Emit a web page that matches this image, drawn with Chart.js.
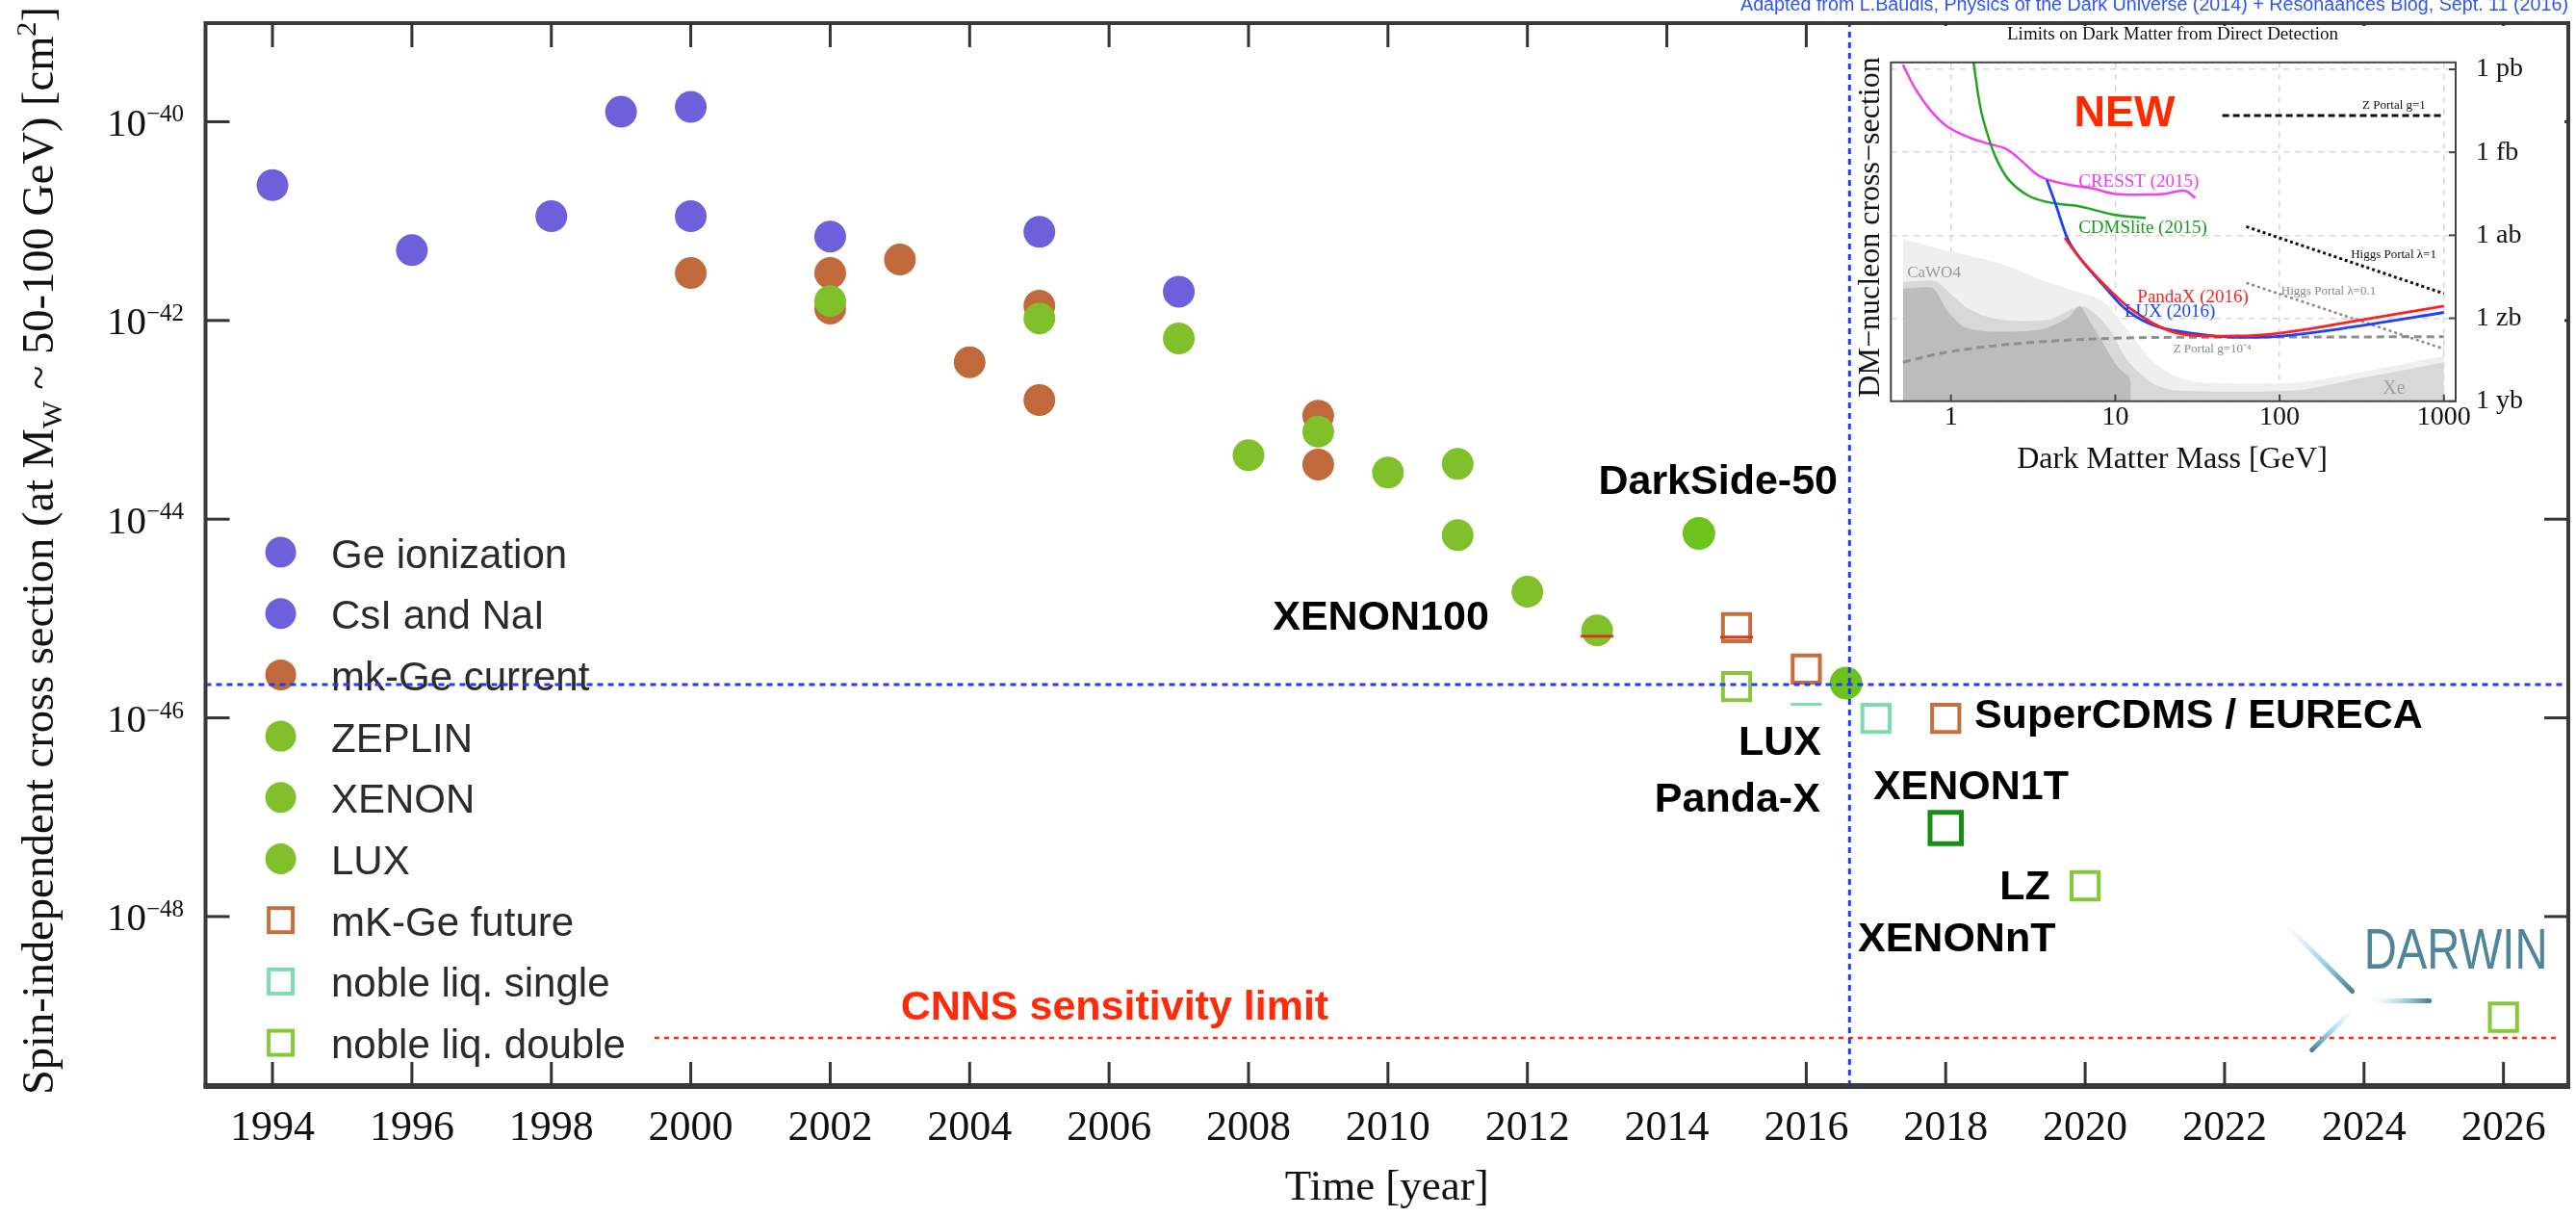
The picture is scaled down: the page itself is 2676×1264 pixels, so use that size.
<!DOCTYPE html>
<html>
<head>
<meta charset="utf-8">
<script src="https://cdn.jsdelivr.net/npm/chart.js@4.4.1/dist/chart.umd.min.js"></script>
<style>
  body { margin: 0; background: #fff; }
  #wrap { position: relative; width: 2676px; height: 1264px; }
  #main { position: absolute; left: 0; top: 0; }
  #inset { position: absolute; left: 1924px; top: 27px; background: #fff; }
</style>
</head>
<body>
<div id="wrap">
  <canvas id="main" width="2676" height="1264"></canvas>
  <canvas id="inset" width="740" height="470"></canvas>
</div>
<script>
var SERIF = '"Liberation Serif", "Times New Roman", serif';
var SANS = '"Liberation Sans", Arial, Helvetica, sans-serif';

// ---------- main plot: year vs. spin-independent cross section [cm^2] ----------
var yearTicks = [1994, 1996, 1998, 2000, 2002, 2004, 2006, 2008, 2010, 2012, 2014, 2016, 2018, 2020, 2022, 2024, 2026];
var decadeExps = [-40, -42, -44, -46, -48];

var geIonYears = [1994, 1996, 1998, 2000, 2002, 2007];
var geIonSigma = [2.3e-41, 5.1e-42, 1.12e-41, 1.12e-41, 7.0e-42, 1.95e-42];
var csiYears = [1999, 2000, 2005];
var csiSigma = [1.26e-40, 1.41e-40, 7.8e-42];
var mkGeYears = [2000, 2002, 2002, 2003, 2004, 2005, 2005, 2009, 2009];
var mkGeSigma = [3.0e-42, 3.0e-42, 1.32e-42, 4.1e-42, 3.8e-43, 1.41e-42, 1.58e-43, 1.1e-43, 3.55e-44];
var zeplinYears = [2002, 2005, 2008, 2009];
var zeplinSigma = [1.57e-42, 1.05e-42, 4.4e-44, 7.6e-44];
var xenonYears = [2007, 2010, 2011, 2011, 2012];
var xenonSigma = [6.6e-43, 2.95e-44, 3.6e-44, 6.9e-45, 1.86e-45];
var luxYears = [2013];
var luxSigma = [7.6e-46];
var darkSideYears = [2014.46];
var darkSideSigma = [7.2e-45];
var lux2016Years = [2016.57];
var lux2016Sigma = [2.24e-46];
var mkGeFutureYears = [2015, 2016, 2018];
var mkGeFutureSigma = [8.1e-46, 3.1e-46, 9.9e-47];
var nobleSingleYears = [2016, 2017];
var nobleSingleSigma = [9.9e-47, 9.9e-47];
var nobleDoubleYears = [2015, 2020, 2026];
var nobleDoubleSigma = [2.06e-46, 2.04e-48, 9.7e-50];
var xenon1tYears = [2018];
var xenon1tSigma = [7.8e-48];
var redMarkYears = [2013, 2015];
var redMarkSigma = [6.65e-46, 6.5e-46];

var luxLimitSigma = 2.16e-46;
var luxLimitYear = 2016.62;
var cnnsSigma = 6.0e-50;
var cnnsYears = [1999.48, 2026.79];

var xMin = 1993.04, xMax = 2026.93;
var yMin = Math.pow(10, -49.706), yMax = Math.pow(10, -39.007);

var legendLabels = ['Ge ionization', 'CsI and NaI', 'mk-Ge current', 'ZEPLIN', 'XENON', 'LUX',
  'mK-Ge future', 'noble liq. single', 'noble liq. double'];

var noteText = ['DarkSide-50', 'XENON100', 'LUX', 'Panda-X', 'SuperCDMS / EURECA', 'XENON1T', 'LZ', 'XENONnT'];
var noteYear = [2016.45, 2011.45, 2016.215, 2016.20, 2018.41, 2016.96, 2019.50, 2016.74];
var noteExp = [-43.60, -44.967, -46.226, -46.792, -45.950, -46.672, -47.675, -48.203];
var noteAlign = ['right', 'right', 'right', 'right', 'left', 'left', 'right', 'left'];
var noteBg = [0, 0, 1, 0, 0, 0, 0, 0];

function pts(xs, ys) {
  return xs.map(function (x, i) { return { x: x, y: ys[i] }; });
}

function dots(label, xs, ys, color, r) {
  return { label: label, data: pts(xs, ys), pointStyle: 'circle', pointRadius: r || 16.5,
    backgroundColor: color, borderColor: color, borderWidth: 0 };
}

function boxes(label, xs, ys, color, r, w) {
  return { label: label, data: pts(xs, ys), pointStyle: 'rect', pointRadius: r || 20,
    backgroundColor: 'rgba(0,0,0,0)', borderColor: color, borderWidth: w || 4 };
}

function put(ctx, s, x, y, size, o) {
  o = o || {};
  ctx.font = (o.bold ? 'bold ' : '') + size + 'px ' + (o.family || SERIF);
  ctx.fillStyle = o.color || '#111';
  ctx.textAlign = o.align || 'left';
  ctx.textBaseline = 'alphabetic';
  ctx.fillText(s, x, y);
}

function seg(ctx, x1, y1, x2, y2) {
  ctx.beginPath(); ctx.moveTo(x1, y1); ctx.lineTo(x2, y2); ctx.stroke();
}

function fade(ctx, x1, y1, x2, y2) {
  var g = ctx.createLinearGradient(x1, y1, x2, y2);
  g.addColorStop(0, 'rgba(200,232,245,0)');
  g.addColorStop(0.55, 'rgba(150,210,232,0.9)');
  g.addColorStop(1, '#4a8096');
  ctx.strokeStyle = g; ctx.lineWidth = 5; ctx.lineCap = 'round';
  seg(ctx, x1, y1, x2, y2);
}

var mainDeco = {
  id: 'mainDeco',
  beforeDatasetsDraw: function (chart) {
    var ctx = chart.ctx;
    ctx.save();
    legendLabels.forEach(function (name, i) {
      var ds = chart.data.datasets.find(function (d) { return d.label === name; });
      var cy = 573.5 + i * 63.7;
      if (ds.pointStyle === 'rect') {
        ctx.strokeStyle = ds.borderColor; ctx.lineWidth = 4;
        ctx.strokeRect(291.6 - 12.5, cy - 12.5, 25, 25);
      } else {
        ctx.fillStyle = ds.backgroundColor;
        ctx.beginPath(); ctx.arc(291.6, cy, 16, 0, Math.PI * 2); ctx.fill();
      }
      put(ctx, name, 344, cy + 16, 42, { family: SANS, color: '#2b2b2b' });
    });
    ctx.restore();
  },
  afterDatasetsDraw: function (chart) {
    var ctx = chart.ctx, a = chart.chartArea, xs = chart.scales.x, ys = chart.scales.y;
    ctx.save();
    // frame
    ctx.strokeStyle = '#3a3a3a'; ctx.lineWidth = 4;
    ctx.strokeRect(a.left, a.top, a.right - a.left, a.bottom - a.top);
    ctx.lineWidth = 6; seg(ctx, a.left - 2, a.bottom, a.right + 2, a.bottom);
    // tick marks, pointing inwards
    ctx.lineWidth = 3; ctx.strokeStyle = '#333';
    yearTicks.forEach(function (yr) {
      var px = xs.getPixelForValue(yr);
      if (yr !== 2014) seg(ctx, px, a.bottom, px, a.bottom - 25);
      seg(ctx, px, a.top, px, a.top + 25);
    });
    decadeExps.forEach(function (e) {
      var py = ys.getPixelForValue(Math.pow(10, e));
      seg(ctx, a.left, py, a.left + 25, py);
      seg(ctx, a.right, py, a.right - 25, py);
      // 10^e tick labels
      ctx.font = '25px ' + SERIF;
      var sup = '\u2212' + String(-e);
      var sw = ctx.measureText(sup).width;
      put(ctx, '10', 191 - sw, py + 14.5, 41, { align: 'right' });
      put(ctx, sup, 191 - sw, py, 25);
    });
    // y axis title with subscript / superscript
    var parts = [['Spin-independent cross section (at M', 0], ['W', 1], [' ~ 50-100 GeV) [cm', 0], ['2', -1], [']', 0]];
    var big = '46px ' + SERIF, small = '30px ' + SERIF, w = 0;
    parts.forEach(function (p) { ctx.font = p[1] ? small : big; w += ctx.measureText(p[0]).width; });
    ctx.save();
    ctx.translate(55, 572); ctx.rotate(-Math.PI / 2);
    var k = Math.max(0.85, Math.min(1.15, 1130 / w));
    ctx.scale(k, 1);
    ctx.fillStyle = '#111'; ctx.textAlign = 'left'; ctx.textBaseline = 'alphabetic';
    var cx = -w / 2;
    parts.forEach(function (p) {
      ctx.font = p[1] ? small : big;
      ctx.fillText(p[0], cx, p[1] === 1 ? 9 : (p[1] === -1 ? -18 : 0));
      cx += ctx.measureText(p[0]).width;
    });
    ctx.restore();
    // experiment labels
    noteText.forEach(function (t, i) {
      var px = xs.getPixelForValue(noteYear[i]);
      var py = ys.getPixelForValue(Math.pow(10, noteExp[i]));
      if (noteBg[i]) {
        ctx.font = 'bold 43px ' + SANS;
        var tw = ctx.measureText(t).width;
        ctx.fillStyle = '#fff';
        ctx.fillRect(px - tw - 8, py - 36, tw + 11, 62);
      }
      put(ctx, t, px, py + 15.5, 43, { family: SANS, bold: true, color: '#000', align: noteAlign[i] });
    });
    // CNNS label
    var cnx = xs.getPixelForValue(2006.08), cny = ys.getPixelForValue(Math.pow(10, -48.891));
    put(ctx, 'CNNS sensitivity limit', cnx, cny + 15.5, 43, { family: SANS, bold: true, color: '#ff2a0a', align: 'center' });
    // DARWIN logo next to its point
    var dx = xs.getPixelForValue(nobleDoubleYears[2]), dy = ys.getPixelForValue(nobleDoubleSigma[2]);
    fade(ctx, dx - 227, dy - 97, dx - 157, dy - 27);
    fade(ctx, dx - 137, dy - 17, dx - 77, dy - 17);
    fade(ctx, dx - 156, dy - 8, dx - 199, dy + 34);
    ctx.font = '60px ' + SANS;
    var dwid = ctx.measureText('DARWIN').width;
    ctx.save();
    ctx.translate(dx - 145, dy - 51); ctx.scale(191 / dwid, 1);
    put(ctx, 'DARWIN', 0, 0, 60, { family: SANS, color: '#4f8599' });
    ctx.restore();
    // source note
    var src = 'Adapted from L.Baudis, Physics of the Dark Universe (2014) + Resonaances Blog, Sept. 11 (2016)';
    ctx.font = '20px ' + SANS;
    var sw2 = ctx.measureText(src).width;
    ctx.save();
    ctx.translate(2668, 11); ctx.scale(Math.min(1.1, 860 / sw2), 1);
    put(ctx, src, 0, 0, 20, { family: SANS, color: '#3055f2', align: 'right' });
    ctx.restore();
    ctx.restore();
  }
};

var mainSets = [
  { label: 'lux-h', data: [{ x: xMin, y: luxLimitSigma }, { x: xMax, y: luxLimitSigma }], showLine: true,
    pointRadius: 0, borderColor: '#1f3df5', borderWidth: 3, borderDash: [6, 5], fill: false },
  { label: 'lux-v', data: [{ x: luxLimitYear, y: yMin }, { x: luxLimitYear, y: yMax }], showLine: true,
    pointRadius: 0, borderColor: '#1f3df5', borderWidth: 3, borderDash: [6, 5], fill: false },
  { label: 'cnns', data: pts(cnnsYears, [cnnsSigma, cnnsSigma]), showLine: true,
    pointRadius: 0, borderColor: '#ff2a0a', borderWidth: 2.5, borderDash: [5, 5], fill: false },
  { label: 'marks', data: pts(redMarkYears, redMarkSigma), pointStyle: 'line', pointRadius: 17,
    borderColor: '#d63c1c', borderWidth: 3 },
  boxes('XENON1T', xenon1tYears, xenon1tSigma, '#149014', 23, 5),
  boxes('mK-Ge future', mkGeFutureYears, mkGeFutureSigma, '#c56f3e'),
  boxes('noble liq. single', nobleSingleYears, nobleSingleSigma, '#7bdcb0'),
  boxes('noble liq. double', nobleDoubleYears, nobleDoubleSigma, '#86c83a'),
  dots('LUX 2016', lux2016Years, lux2016Sigma, '#6cc31c', 17),
  dots('DarkSide', darkSideYears, darkSideSigma, '#6cc31c', 17),
  dots('LUX', luxYears, luxSigma, '#80c02a'),
  dots('XENON', xenonYears, xenonSigma, '#80c02a'),
  dots('ZEPLIN', zeplinYears, zeplinSigma, '#80c02a'),
  dots('mk-Ge current', mkGeYears, mkGeSigma, '#c0693b'),
  dots('CsI and NaI', csiYears, csiSigma, '#6e5fdb'),
  dots('Ge ionization', geIonYears, geIonSigma, '#6e5fdb')
];

new Chart(document.getElementById('main'), {
  type: 'scatter',
  data: { datasets: mainSets },
  options: {
    responsive: false, animation: false, devicePixelRatio: 1,
    layout: { autoPadding: false, padding: { top: 24, right: 8, left: 0, bottom: 0 } },
    plugins: { legend: { display: false }, tooltip: { enabled: false } },
    scales: {
      x: {
        type: 'linear', min: xMin, max: xMax,
        afterFit: function (s) { s.height = 136; },
        afterBuildTicks: function (s) { s.ticks = yearTicks.map(function (v) { return { value: v }; }); },
        ticks: { callback: function (v) { return String(v); }, font: { family: SERIF, size: 44 }, color: '#111',
          padding: 18, maxRotation: 0, autoSkip: false },
        grid: { display: false, drawTicks: false }, border: { display: false },
        title: { display: true, text: 'Time [year]', font: { family: SERIF, size: 45 }, color: '#111',
          padding: { top: 0, bottom: 3 } }
      },
      y: {
        type: 'logarithmic', min: yMin, max: yMax,
        afterFit: function (s) { s.width = 213.5; },
        ticks: { display: false }, grid: { display: false, drawTicks: false }, border: { display: false }
      }
    }
  },
  plugins: [mainDeco]
});

// ---------- inset: limits on dark matter from direct detection ----------
var massTicks = [1, 10, 100, 1000];
var massTickLabels = ['1', '10', '100', '1000'];
var unitTicks = [1e-36, 1e-39, 1e-42, 1e-45, 1e-48];
var unitTickLabels = ['1 pb', '1 fb', '1 ab', '1 zb', '1 yb'];

var cresstMass = [0.51, 0.61, 0.76, 0.955, 1.31, 1.71, 2.15, 2.57, 3.52, 5.14, 7.19, 10.0, 15.3, 19.7, 26.4, 30.7];
var cresstSigma = [1.48e-36, 1.86e-37, 3.02e-38, 8.3e-39, 3.31e-39, 2.0e-39, 1.35e-39, 6.2e-40, 1.29e-40, 6.8e-41,
  5.0e-41, 3.1e-41, 2.95e-41, 3.1e-41, 4.1e-41, 2.24e-41];
var cdmsMass = [1.37, 1.50, 1.64, 1.88, 2.25, 2.94, 3.8, 5.1, 6.1, 7.2, 10.0, 15.3];
var cdmsSigma = [1.9e-36, 5.1e-38, 6.3e-39, 6.2e-40, 1.0e-40, 2.75e-41, 1.62e-41, 1.26e-41, 1.1e-41, 8.7e-42, 5.4e-42, 4.2e-42];
var luxMass = [3.83, 4.35, 5.14, 6.08, 8.51, 11.9, 18.1, 32.6, 53.9, 105, 288, 1000];
var luxCurve = [1.0e-40, 1.26e-41, 7.2e-43, 1.51e-43, 1.48e-44, 1.86e-45, 5.0e-46, 2.63e-46, 2.04e-46, 2.29e-46, 5.0e-46, 1.62e-45];
var pandaMass = [4.93, 6.08, 8.51, 12.9, 23.3, 53.9, 105, 288, 1000];
var pandaCurve = [8.1e-43, 1.51e-43, 1.7e-44, 1.86e-45, 3.0e-46, 2.29e-46, 3.0e-46, 7.9e-46, 2.75e-45];
var zPortal1Mass = [44.8, 1000];
var zPortal1Sigma = [2.14e-38, 2.14e-38];
var higgs1Mass = [62.7, 1000];
var higgs1Sigma = [2.04e-42, 7.8e-45];
var higgs01Mass = [62.7, 1000];
var higgs01Sigma = [1.9e-44, 7.8e-47];
var zPortal4Mass = [0.51, 1.0, 3.0, 10.0, 23.3, 1000];
var zPortal4Sigma = [2.57e-47, 6.3e-47, 1.32e-46, 1.9e-46, 2.04e-46, 2.14e-46];
var floorAMass = [0.51, 0.91, 2.05, 3.52, 5.28, 8.46, 11.85, 16.6, 23.3, 34.9, 125, 290, 1000];
var floorASigma = [7.2e-43, 2.95e-43, 9.1e-44, 2.45e-44, 1.12e-44, 4.1e-45, 3.9e-46, 3.0e-47, 7.9e-48, 4.7e-48, 4.7e-48, 1.02e-47, 4.3e-47];
var floorBMass = [0.51, 0.80, 0.88, 1.045, 1.28, 1.79, 2.69, 4.03, 4.35, 6.08, 7.19, 9.25, 11.85, 16.6, 23.3, 125, 290, 1000];
var floorBSigma = [2.04e-44, 2.24e-44, 1.51e-44, 5.9e-45, 2.19e-45, 1.0e-45, 7.9e-46, 9.1e-46, 1.1e-45, 2.75e-45, 1.86e-45,
  3.9e-46, 3.0e-47, 4.7e-48, 2.45e-48, 2.45e-48, 6.2e-48, 2.57e-47];
var floorCMass = [0.51, 0.76, 0.83, 0.95, 1.20, 1.72, 3.52, 5.14, 6.08, 7.19, 8.46, 10.36, 12.34, 12.42];
var floorCSigma = [1.15e-44, 1.29e-44, 7.6e-45, 1.86e-45, 4.9e-46, 3.3e-46, 3.9e-46, 1.0e-45, 2.75e-45, 5.8e-46, 1.2e-46, 1.74e-47, 6.3e-48, 1.0e-48];

var insetNotes = [
  { text: 'NEW', m: 11.38, e: -37.52, size: 45, color: '#ff2a00', bold: true, family: SANS },
  { text: 'CRESST (2015)', m: 13.9, e: -40.0, size: 19, color: '#f03cf0' },
  { text: 'CDMSlite (2015)', m: 14.7, e: -41.69, size: 19, color: '#1a9a1a' },
  { text: 'PandaX (2016)', m: 29.7, e: -44.19, size: 19, color: '#ff2020' },
  { text: 'LUX (2016)', m: 21.5, e: -44.70, size: 19, color: '#2040ff' },
  { text: 'Z Portal g=1', m: 497, e: -37.26, size: 13, color: '#111' },
  { text: 'Higgs Portal \u03bb=1', m: 494, e: -42.67, size: 13, color: '#111' },
  { text: 'Higgs Portal \u03bb=0.1', m: 199, e: -43.98, size: 13, color: '#888' },
  { text: 'Z Portal g=10\u207b\u2074', m: 38.9, e: -46.08, size: 13, color: '#888' },
  { text: 'CaWO4', m: 0.788, e: -43.32, size: 17, color: '#999' },
  { text: 'Xe', m: 497, e: -47.49, size: 20, color: '#a0a0a0' }
];

function curve(xs, ys, color, width, dash) {
  return { data: pts(xs, ys), showLine: true, pointRadius: 0, borderColor: color, borderWidth: width,
    borderDash: dash || [], tension: 0.35, fill: false };
}
function floorArea(xs, ys, color) {
  return { data: pts(xs, ys), showLine: true, pointRadius: 0, borderWidth: 0, borderColor: color,
    backgroundColor: color, tension: 0.25, fill: 'start' };
}

var insetDeco = {
  id: 'insetDeco',
  afterDatasetsDraw: function (chart) {
    var ctx = chart.ctx, a = chart.chartArea, xs = chart.scales.x, ys = chart.scales.y;
    ctx.save();
    ctx.strokeStyle = '#444'; ctx.lineWidth = 2;
    ctx.strokeRect(a.left, a.top, a.right - a.left, a.bottom - a.top);
    massTicks.forEach(function (v) { var px = xs.getPixelForValue(v); seg(ctx, px, a.bottom, px, a.bottom - 7); });
    unitTicks.forEach(function (v) { var py = ys.getPixelForValue(v); seg(ctx, a.right, py, a.right - 7, py); });
    insetNotes.forEach(function (n) {
      var px = xs.getPixelForValue(n.m), py = ys.getPixelForValue(Math.pow(10, n.e));
      put(ctx, n.text, px, py + 0.35 * n.size, n.size, { color: n.color, bold: n.bold, family: n.family, align: 'center' });
    });
    put(ctx, 'Limits on Dark Matter from Direct Detection', 333, 14, 19, { align: 'center' });
    put(ctx, 'Dark Matter Mass [GeV]', 332.5, 459, 32, { align: 'center' });
    ctx.save();
    ctx.translate(27.7, 209); ctx.rotate(-Math.PI / 2);
    put(ctx, 'DM\u2212nucleon cross\u2212section', 0, 0, 32, { align: 'center' });
    ctx.restore();
    ctx.restore();
  }
};

new Chart(document.getElementById('inset'), {
  type: 'scatter',
  data: {
    datasets: [
      curve(pandaMass, pandaCurve, '#ff2020', 2.8),
      curve(luxMass, luxCurve, '#2040ff', 2.8),
      curve(cdmsMass, cdmsSigma, '#1fa51f', 2.5),
      curve(cresstMass, cresstSigma, '#f040f0', 2.5),
      curve(zPortal1Mass, zPortal1Sigma, '#111', 3, [7, 4]),
      curve(higgs1Mass, higgs1Sigma, '#111', 3, [3, 3]),
      curve(higgs01Mass, higgs01Sigma, '#8a8a8a', 2.5, [3, 3]),
      curve(zPortal4Mass, zPortal4Sigma, '#8f8f8f', 3, [8, 5]),
      floorArea(floorCMass, floorCSigma, '#bcbcbc'),
      floorArea(floorBMass, floorBSigma, '#d8d8d8'),
      floorArea(floorAMass, floorASigma, '#efefef')
    ]
  },
  options: {
    responsive: false, animation: false, devicePixelRatio: 1,
    layout: { autoPadding: false, padding: { left: 40.3, top: 27.3, right: 0, bottom: 0 } },
    plugins: { legend: { display: false }, tooltip: { enabled: false } },
    scales: {
      x: {
        type: 'logarithmic', min: 0.431, max: 1179,
        afterFit: function (s) { s.height = 80.3; },
        afterBuildTicks: function (s) { s.ticks = massTicks.map(function (v) { return { value: v }; }); },
        ticks: { callback: function (v, i) { return massTickLabels[i]; }, font: { family: SERIF, size: 28 },
          color: '#111', padding: 0, maxRotation: 0, autoSkip: false },
        grid: { color: '#d6d6d6', lineWidth: 1.5, drawTicks: false },
        border: { display: false, dash: [6, 6] }
      },
      y: {
        type: 'logarithmic', position: 'right', min: 1e-48, max: Math.pow(10, -35.75),
        afterFit: function (s) { s.width = 113; },
        afterBuildTicks: function (s) { s.ticks = unitTicks.map(function (v) { return { value: v }; }); },
        ticks: { callback: function (v, i) { return unitTickLabels[i]; }, font: { family: SERIF, size: 28 },
          color: '#111', padding: 21, autoSkip: false },
        grid: { color: '#d6d6d6', lineWidth: 1.5, drawTicks: false },
        border: { display: false, dash: [6, 6] }
      }
    }
  },
  plugins: [insetDeco]
});
</script>
</body>
</html>
